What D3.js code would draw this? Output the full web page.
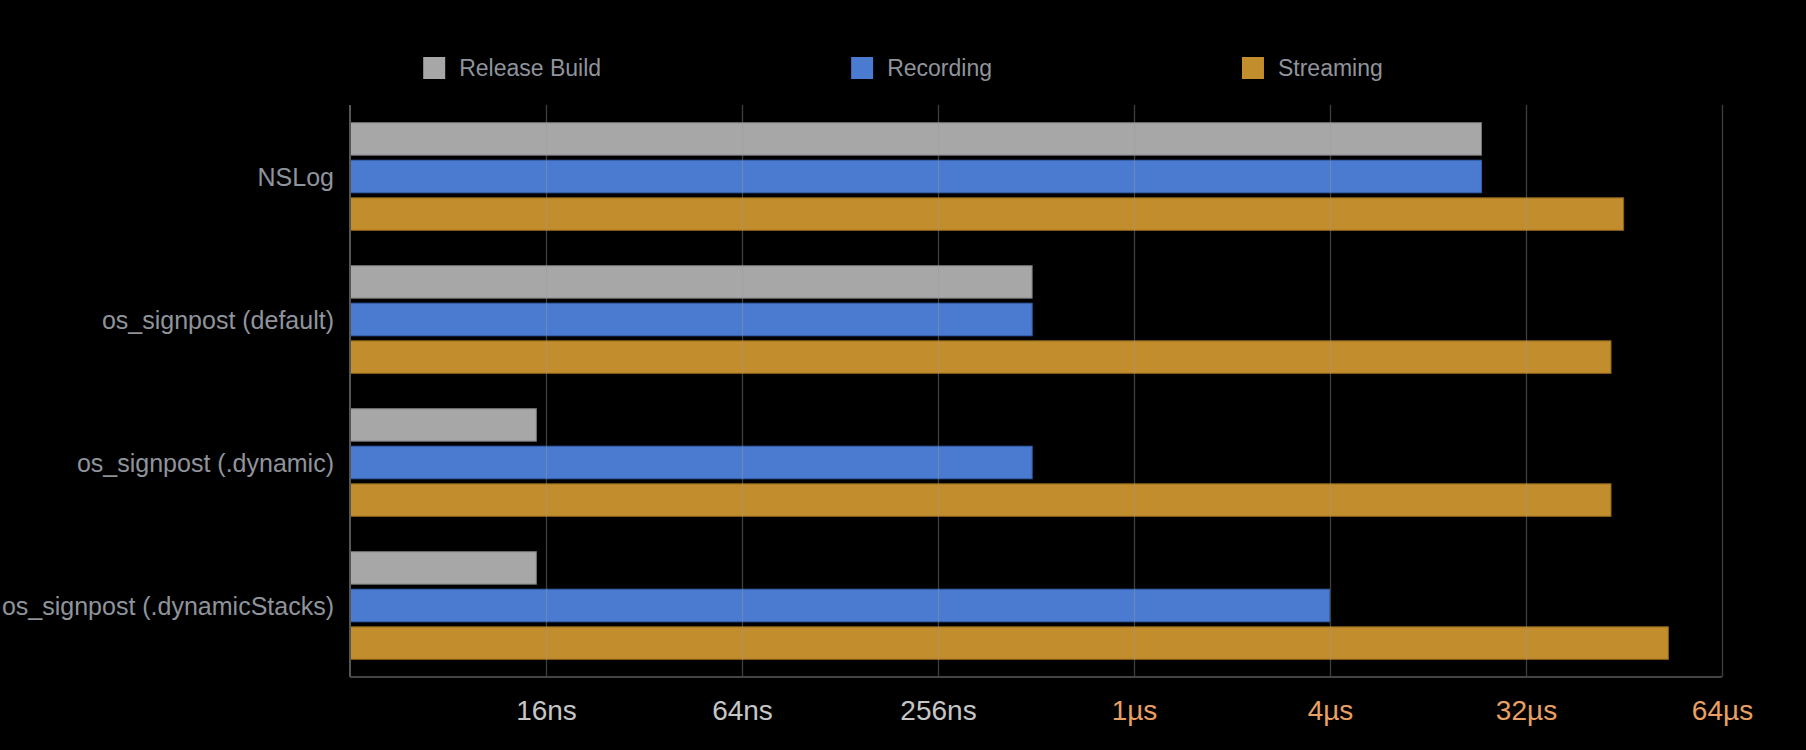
<!DOCTYPE html>
<html>
<head>
<meta charset="utf-8">
<script src="https://cdn.jsdelivr.net/npm/d3@7"></script>
<style>
  html, body { margin: 0; padding: 0; background: #000; }
  svg { display: block; }
  text { font-family: "Liberation Sans", Arial, Helvetica, sans-serif; }
</style>
</head>
<body>
<div id="chart"></div>
<script>
// values in nanoseconds
var categories = ["NSLog", "os_signpost (default)", "os_signpost (.dynamic)", "os_signpost (.dynamicStacks)"];
var seriesNames = ["Release Build", "Recording", "Streaming"];
var releaseBuild = [12000, 500, 15, 15];
var recording = [12000, 500, 500, 4096];
var streaming = [32800, 30000, 30000, 45000];
var tickValues = [16, 64, 256, 1024, 4096, 16384, 65536];
var tickLabels = ["16ns", "64ns", "256ns", "1µs", "4µs", "32µs", "64µs"];

var seriesValues = [releaseBuild, recording, streaming];
var fills = ["#a7a7a7", "#4a7bd0", "#c28d2c"];
var strokes = ["#757575", "#3560ad", "#8a6318"];

var W = 1806, H = 750;
var margin = {top: 105, right: 84, bottom: 73, left: 350};
var width = W - margin.left - margin.right;
var height = H - margin.top - margin.bottom;

var svg = d3.select("#chart").append("svg")
    .attr("width", W).attr("height", H)
    .attr("viewBox", `0 0 ${W} ${H}`);
svg.append("rect").attr("width", W).attr("height", H).attr("fill", "#000");

var g = svg.append("g").attr("transform", `translate(${margin.left},${margin.top})`);

var x = d3.scaleLog().base(2).domain([4, 65536]).range([0, width]);
var y0 = d3.scaleBand().domain(categories).range([0, height])
    .paddingInner(0.24).paddingOuter(0.12);
var y1 = d3.scaleBand().domain(seriesNames).range([0, y0.bandwidth()])
    .paddingInner(0.107).paddingOuter(0);

// bars
var rows = categories.map(function(c, i) {
  return {cat: c, vals: seriesNames.map(function(s, j) { return {s: s, j: j, v: seriesValues[j][i]}; })};
});
var grp = g.selectAll("g.cat").data(rows).enter().append("g")
    .attr("class", "cat")
    .attr("transform", function(d) { return `translate(0,${y0(d.cat)})`; });
grp.selectAll("rect").data(function(d) { return d.vals; }).enter().append("rect")
    .attr("x", 0.5)
    .attr("y", function(d) { return y1(d.s) + 0.5; })
    .attr("width", function(d) { return x(d.v) - 1; })
    .attr("height", y1.bandwidth() - 1)
    .attr("fill", function(d) { return fills[d.j]; })
    .attr("stroke", function(d) { return strokes[d.j]; })
    .attr("stroke-width", 1);

// grid lines drawn over the bars, faint
var grid = g.append("g").attr("class", "grid")
    .call(d3.axisBottom(x).tickValues(tickValues).tickSize(height).tickFormat(""));
grid.select(".domain").remove();
grid.selectAll(".tick line")
    .attr("stroke", "#9a9a9a").attr("stroke-opacity", 0.4).attr("stroke-width", 1.3);

// left axis line
g.append("line").attr("x1", 0).attr("x2", 0).attr("y1", 0).attr("y2", height)
    .attr("stroke", "#555").attr("stroke-width", 2);
// bottom axis line
g.append("line").attr("x1", 0).attr("x2", width).attr("y1", height).attr("y2", height)
    .attr("stroke", "#444").attr("stroke-width", 2);

// tick labels
var xAxis = g.append("g").attr("transform", `translate(0,${height})`)
    .call(d3.axisBottom(x).tickValues(tickValues).tickSize(0).tickPadding(22)
      .tickFormat(function(d, i) { return tickLabels[i]; }));
xAxis.select(".domain").remove();
xAxis.selectAll(".tick text")
    .attr("font-family", "'Liberation Sans', Arial, sans-serif")
    .attr("font-size", 28)
    .attr("dy", "0.75em")
    .attr("fill", function(d, i) { return tickLabels[i].indexOf("µs") >= 0 ? "#e9a062" : "#c6c6c6"; });

// category labels
g.selectAll("text.cat").data(categories).enter().append("text")
    .attr("class", "cat")
    .attr("x", -16)
    .attr("y", function(d) { return y0(d) + y0.bandwidth() / 2; })
    .attr("text-anchor", "end")
    .attr("dominant-baseline", "central")
    .attr("font-size", 25)
    .attr("fill", "#8f949c")
    .text(function(d) { return d; });

// legend, centred on the page
var legend = svg.append("g").attr("class", "legend");
var items = legend.selectAll("g").data(seriesNames).enter().append("g");
items.append("rect").attr("width", 22).attr("height", 22).attr("y", 57)
    .attr("fill", function(d, i) { return fills[i]; });
items.append("text").attr("x", 36).attr("y", 68)
    .attr("dominant-baseline", "central")
    .attr("font-size", 23)
    .attr("fill", "#8f949c")
    .text(function(d) { return d; });
var gap = 250, pos = 0, offsets = [];
items.each(function() {
  offsets.push(pos);
  pos += 36 + d3.select(this).select("text").node().getComputedTextLength() + gap;
});
var total = pos - gap;
var start = W / 2 - total / 2;
items.attr("transform", function(d, i) { return `translate(${start + offsets[i]},0)`; });
</script>
</body>
</html>
